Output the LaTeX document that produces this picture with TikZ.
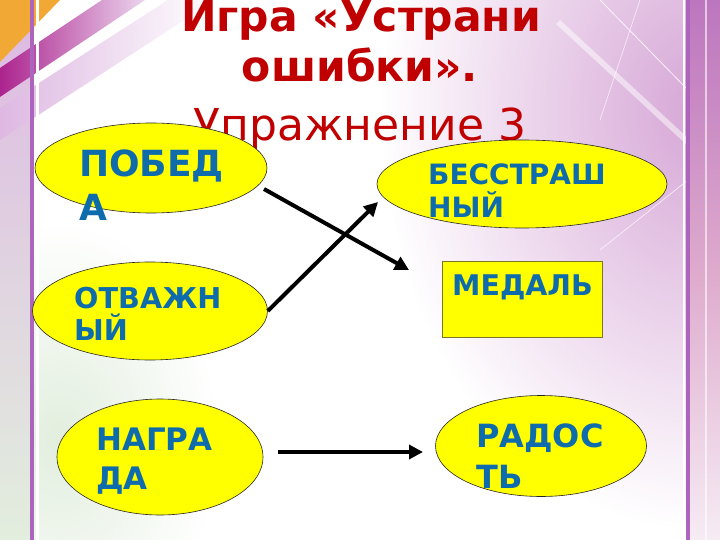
\documentclass[tikz,border=0pt]{standalone}
\usepackage{fontspec}
\setmainfont{DejaVu Sans}
\usetikzlibrary{arrows.meta,shapes.geometric}
\definecolor{ttlred}{RGB}{192,0,0}
\definecolor{lblblue}{RGB}{14,108,172}
\definecolor{ovfill}{RGB}{255,255,0}
\definecolor{framevio}{RGB}{172,100,188}
\definecolor{boxedge}{RGB}{120,120,40}
\definecolor{magband}{RGB}{172,36,142}
\definecolor{lilac}{RGB}{222,184,226}
\definecolor{orng}{RGB}{242,168,52}
\definecolor{haze}{RGB}{214,166,214}
\definecolor{pgreen}{RGB}{226,238,222}
\definecolor{rstriptop}{RGB}{188,118,190}
\definecolor{rstripmid}{RGB}{222,170,205}
\definecolor{rstripbot}{RGB}{246,236,244}
\begin{document}
\begin{tikzpicture}[x=1pt,y=-1pt,
  ttl/.style={font=\fontsize{42.5}{50}\selectfont\bfseries, text=ttlred, inner sep=0},
  subttl/.style={font=\fontsize{44}{52}\selectfont, text=ttlred, inner sep=0},
  oval/.style={ellipse, draw=black!85, line width=0.6pt, fill=ovfill, inner sep=0},
  medalbox/.style={rectangle, draw=boxedge, line width=0.8pt, fill=ovfill, inner sep=0},
  lbl/.style={text=lblblue, inner sep=0, anchor=base west},
  arr/.style={line width=4pt, -{Triangle[length=14pt,width=14pt]}}]
\useasboundingbox (0,0) rectangle (720,540);
% ---------- background ----------
\fill[white] (0,0) rectangle (720,540);
\begin{scope}
  \clip (380,0) rectangle (688,540);
  \shade[inner color=haze, outer color=white] (700,110) ellipse (320 and 420);
\end{scope}
\shade[inner color=pgreen, outer color=white] (60,440) ellipse (160 and 220);
\fill[white, opacity=0.5] (560,20) -- (690,140) -- (688,146) -- (556,24) -- cycle;
\draw[white, line width=0.8pt, opacity=0.8] (600,0) -- (688,90);
\draw[white, line width=0.6pt, opacity=0.8] (640,0) -- (600,120);
\draw[white, line width=0.6pt, opacity=0.8] (688,180) -- (600,250);
% left strip
\shade[top color=lilac, bottom color=pgreen] (0,0) rectangle (31,540);
\fill[orng] (0,0) -- (60,0) -- (0,62) -- cycle;
\shade[left color=lilac, right color=white] (0,108) -- (0,140) -- (215,0) -- (168,0) -- cycle;
\shade[left color=magband, right color=lilac!60] (0,68) -- (0,97) -- (145,0) -- (102,0) -- cycle;
% right strip
\shade[top color=rstriptop, bottom color=rstripbot, middle color=rstripmid] (690,0) rectangle (720,540);
\draw[white, line width=1.5pt, opacity=0.6] (706,0) -- (706,540);
% frame lines
\draw[white, line width=3pt] (37,0) -- (37,540);
\draw[framevio, line width=4pt] (32,0) -- (32,540);
\draw[white, line width=2pt] (684,0) -- (684,540);
\draw[framevio, line width=4pt] (688,0) -- (688,540);
% ---------- title ----------
\node[ttl, anchor=base] (t1) at (361,32) {Игра «Устрани};
\node[ttl, anchor=base] (t2) at (360,82) {ошибки».};
\node[subttl, anchor=base] (t3) at (360,141) {Упражнение 3};
% ---------- shapes ----------
\node[oval, minimum width=232, minimum height=90] (pobeda) at (151,168) {};
\node[oval, minimum width=235, minimum height=98] (otvazh) at (150,311) {};
\node[oval, minimum width=206, minimum height=116] (nagrada) at (160,457) {};
\node[oval, minimum width=290, minimum height=88] (bestr) at (522,184) {};
\node[medalbox, minimum width=160, minimum height=76] (medal) at (522,299) {};
\node[oval, minimum width=211, minimum height=101] (radost) at (541,446) {};
% ---------- labels ----------
\node[lbl, font=\fontsize{36}{43}\selectfont\bfseries] (pobedaT) at (79,177)
  {\vtop{\baselineskip=44pt\hbox{ПОБЕД}\hbox{А}}};
\node[lbl, font=\fontsize{28.7}{32}\selectfont\bfseries] (otvazhT) at (74,308)
  {\vtop{\baselineskip=32pt\hbox{ОТВАЖН}\hbox{ЫЙ}}};
\node[lbl, font=\fontsize{31}{38}\selectfont\bfseries] (nagradaT) at (96,450)
  {\vtop{\baselineskip=39pt\hbox{НАГРА}\hbox{ДА}}};
\node[lbl, font=\fontsize{28}{32}\selectfont\bfseries] (bestrT) at (428,185)
  {\vtop{\baselineskip=33pt\hbox{БЕССТРАШ}\hbox{НЫЙ}}};
\node[lbl, font=\fontsize{28.5}{34}\selectfont\bfseries] (medalT) at (452,295) {МЕДАЛЬ};
\node[lbl, font=\fontsize{32}{38}\selectfont\bfseries] (radostT) at (476,447)
  {\vtop{\baselineskip=41pt\hbox{РАДОС}\hbox{ТЬ}}};
% ---------- connectors ----------
\coordinate (a1s) at (264,189);
\coordinate (a1e) at (409,270);
\coordinate (a2e) at (378,202);
\coordinate (a3s) at (278,452);
\coordinate (a3e) at (423,452);
\draw[arr] (a1s) -- (a1e);
\draw[arr] (otvazh.east) -- (a2e);
\draw[arr] (a3s) -- (a3e);
\end{tikzpicture}
\end{document}
